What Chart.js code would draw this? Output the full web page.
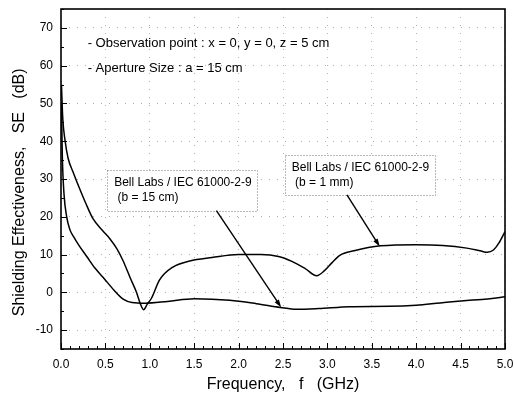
<!DOCTYPE html>
<html>
<head>
<meta charset="utf-8">
<script src="https://cdn.jsdelivr.net/npm/chart.js@4/dist/chart.umd.min.js"></script>
<style>
  html, body { margin: 0; padding: 0; background: #fff; }
  #wrap { width: 514px; height: 397px; }
</style>
</head>
<body>
<div id="wrap"><canvas id="seChart" width="514" height="397"></canvas></div>
<script>
// b = 1 mm aperture curve
const freqB1mm = [0.005, 0.02, 0.045, 0.08, 0.14, 0.2, 0.28, 0.36, 0.47, 0.55, 0.63, 0.7, 0.78, 0.85, 0.89, 0.93, 0.97, 1.02, 1.11, 1.26, 1.45, 1.7, 2.0, 2.25, 2.45, 2.6, 2.75, 2.88, 2.97, 3.05, 3.14, 3.3, 3.6, 4.0, 4.3, 4.57, 4.72, 4.8, 4.87, 4.93, 5.0];
const seB1mm = [55, 46, 40.3, 35.5, 31.6, 28, 23.5, 19.5, 16.3, 14.2, 11.5, 8.3, 3.8, 0, -2.8, -4.6, -3.2, -1.5, 3.3, 6.7, 8.3, 9.2, 10.0, 10.0, 9.5, 8.2, 6.3, 4.4, 5.8, 7.8, 9.8, 11, 12.3, 12.6, 12.4, 11.7, 11.0, 10.6, 11.2, 13, 16.1];

// b = 15 cm aperture curve
const freqB15cm = [0.005, 0.015, 0.034, 0.064, 0.1, 0.14, 0.2, 0.29, 0.38, 0.48, 0.6, 0.7, 0.8, 0.95, 1.2, 1.5, 1.9, 2.2, 2.47, 2.65, 2.9, 3.25, 3.7, 4.0, 4.27, 4.6, 4.83, 5.0];
const seB15cm = [50, 36, 26, 20, 16.6, 14.8, 12.5, 9.5, 6.5, 3.8, 0.5, -1.8, -2.7, -2.9, -2.4, -1.7, -2.1, -3, -4, -4.5, -4.3, -3.8, -3.7, -3.4, -2.8, -2.1, -1.7, -1.2];

const xTicks = [0, 0.5, 1.0, 1.5, 2.0, 2.5, 3.0, 3.5, 4.0, 4.5, 5.0];
const yTicks = [-10, 0, 10, 20, 30, 40, 50, 60, 70];

const notes = ['- Observation point : x = 0, y = 0, z = 5 cm', '- Aperture Size : a = 15 cm'];
const callouts = [
  { lines: ['Bell Labs / IEC 61000-2-9', ' (b = 15 cm)'], box: [0.52, 2.21, 32.4, 21.6], from: [1.75, 21.6], to: [2.48, -4.0] },
  { lines: ['Bell Labs / IEC 61000-2-9', ' (b = 1 mm)'], box: [2.52, 4.21, 36.4, 25.8], from: [3.22, 25.8], to: [3.59, 12.1] },
];

const FONT = '"Liberation Sans", Arial, sans-serif';

function toPoints(xs, ys) {
  return xs.map((x, i) => ({ x: x, y: ys[i] }));
}

const framePlugin = {
  id: 'frame',
  afterDatasetsDraw(chart) {
    const ctx = chart.ctx;
    const area = chart.chartArea;
    const xs = chart.scales.x;
    const ys = chart.scales.y;
    ctx.save();

    // inward ticks
    ctx.strokeStyle = '#000';
    ctx.lineWidth = 1;
    ctx.beginPath();
    for (let i = 0; i <= 50; i++) {
      const px = Math.round(xs.getPixelForValue(i / 10)) + 0.5;
      const len = i % 5 === 0 ? 6 : 3;
      ctx.moveTo(px, area.bottom);
      ctx.lineTo(px, area.bottom - len);
    }
    for (let v = -15; v <= 75; v += 5) {
      const py = Math.round(ys.getPixelForValue(v)) + 0.5;
      const len = v % 10 === 0 ? 6 : 3;
      ctx.moveTo(area.left, py);
      ctx.lineTo(area.left + len, py);
    }
    ctx.stroke();

    // frame
    ctx.lineWidth = 1.6;
    ctx.strokeRect(area.left, area.top, area.right - area.left, area.bottom - area.top);

    // notes top-left
    ctx.fillStyle = '#000';
    ctx.font = '13px ' + FONT;
    ctx.textBaseline = 'middle';
    ctx.textAlign = 'left';
    ctx.fillText(notes[0], xs.getPixelForValue(0.3), ys.getPixelForValue(66));
    ctx.fillText(notes[1], xs.getPixelForValue(0.3), ys.getPixelForValue(59.4));

    // callout boxes with arrows
    callouts.forEach((c) => {
      const l = xs.getPixelForValue(c.box[0]);
      const r = xs.getPixelForValue(c.box[1]);
      const t = ys.getPixelForValue(c.box[2]);
      const b = ys.getPixelForValue(c.box[3]);
      ctx.fillStyle = '#fff';
      ctx.fillRect(l, t, r - l, b - t);
      ctx.setLineDash([1, 2]);
      ctx.strokeStyle = '#777';
      ctx.lineWidth = 1;
      ctx.strokeRect(Math.round(l) + 0.5, Math.round(t) + 0.5, Math.round(r - l), Math.round(b - t));
      ctx.setLineDash([]);
      ctx.fillStyle = '#000';
      ctx.font = '12px ' + FONT;
      c.lines.forEach((txt, i) => {
        ctx.fillText(txt, l + 7, t + 13 + i * 15);
      });

      const x1 = xs.getPixelForValue(c.from[0]);
      const y1 = ys.getPixelForValue(c.from[1]);
      const x2 = xs.getPixelForValue(c.to[0]);
      const y2 = ys.getPixelForValue(c.to[1]);
      const ang = Math.atan2(y2 - y1, x2 - x1);
      ctx.strokeStyle = '#000';
      ctx.lineWidth = 1.4;
      ctx.beginPath();
      ctx.moveTo(x1, y1);
      ctx.lineTo(x2 - 6 * Math.cos(ang), y2 - 6 * Math.sin(ang));
      ctx.stroke();
      ctx.beginPath();
      ctx.moveTo(x2, y2);
      ctx.lineTo(x2 - 8 * Math.cos(ang) + 2.5 * Math.sin(ang), y2 - 8 * Math.sin(ang) - 2.5 * Math.cos(ang));
      ctx.lineTo(x2 - 8 * Math.cos(ang) - 2.5 * Math.sin(ang), y2 - 8 * Math.sin(ang) + 2.5 * Math.cos(ang));
      ctx.closePath();
      ctx.fill();
    });
    ctx.restore();
  },
};

const lineStyle = {
  borderColor: '#000',
  backgroundColor: '#000',
  borderWidth: 1.5,
  pointRadius: 0,
  fill: false,
  cubicInterpolationMode: 'monotone',
};

new Chart(document.getElementById('seChart'), {
  type: 'line',
  data: {
    datasets: [
      Object.assign({ label: 'b = 1 mm', data: toPoints(freqB1mm, seB1mm) }, lineStyle),
      Object.assign({ label: 'b = 15 cm', data: toPoints(freqB15cm, seB15cm) }, lineStyle),
    ],
  },
  options: {
    responsive: false,
    animation: false,
    devicePixelRatio: 1,
    layout: { padding: { top: 9, right: 9, left: 0, bottom: 0 } },
    plugins: {
      legend: { display: false },
      tooltip: { enabled: false },
    },
    scales: {
      x: {
        type: 'linear',
        min: 0,
        max: 5,
        afterBuildTicks: (s) => { s.ticks = xTicks.map((v) => ({ value: v })); },
        afterFit: (s) => { s.height = 48; s.paddingLeft = 0; s.paddingRight = 0; },
        ticks: {
          color: '#000',
          font: { family: FONT, size: 12 },
          padding: 8,
          maxRotation: 0,
          callback: (v) => Number(v).toFixed(1),
        },
        grid: { color: '#b0b0b0', drawTicks: false },
        border: { display: false, dash: [1, 7] },
        title: {
          display: true,
          text: 'Frequency,   f   (GHz)',
          color: '#000',
          font: { family: FONT, size: 16 },
          padding: { top: 0, bottom: 3 },
        },
      },
      y: {
        min: -15,
        max: 75,
        afterBuildTicks: (s) => { s.ticks = yTicks.map((v) => ({ value: v })); },
        afterFit: (s) => { s.width = 61; s.paddingTop = 0; s.paddingBottom = 0; },
        ticks: {
          color: '#000',
          font: { family: FONT, size: 12 },
          padding: 8,
        },
        grid: { color: '#b0b0b0', drawTicks: false },
        border: { display: false, dash: [1, 7] },
        title: {
          display: true,
          text: 'Shielding Effectiveness,   SE   (dB)      ',
          color: '#000',
          font: { family: FONT, size: 16 },
          padding: { top: 10, bottom: 0 },
        },
      },
    },
  },
  plugins: [framePlugin],
});
</script>
</body>
</html>
